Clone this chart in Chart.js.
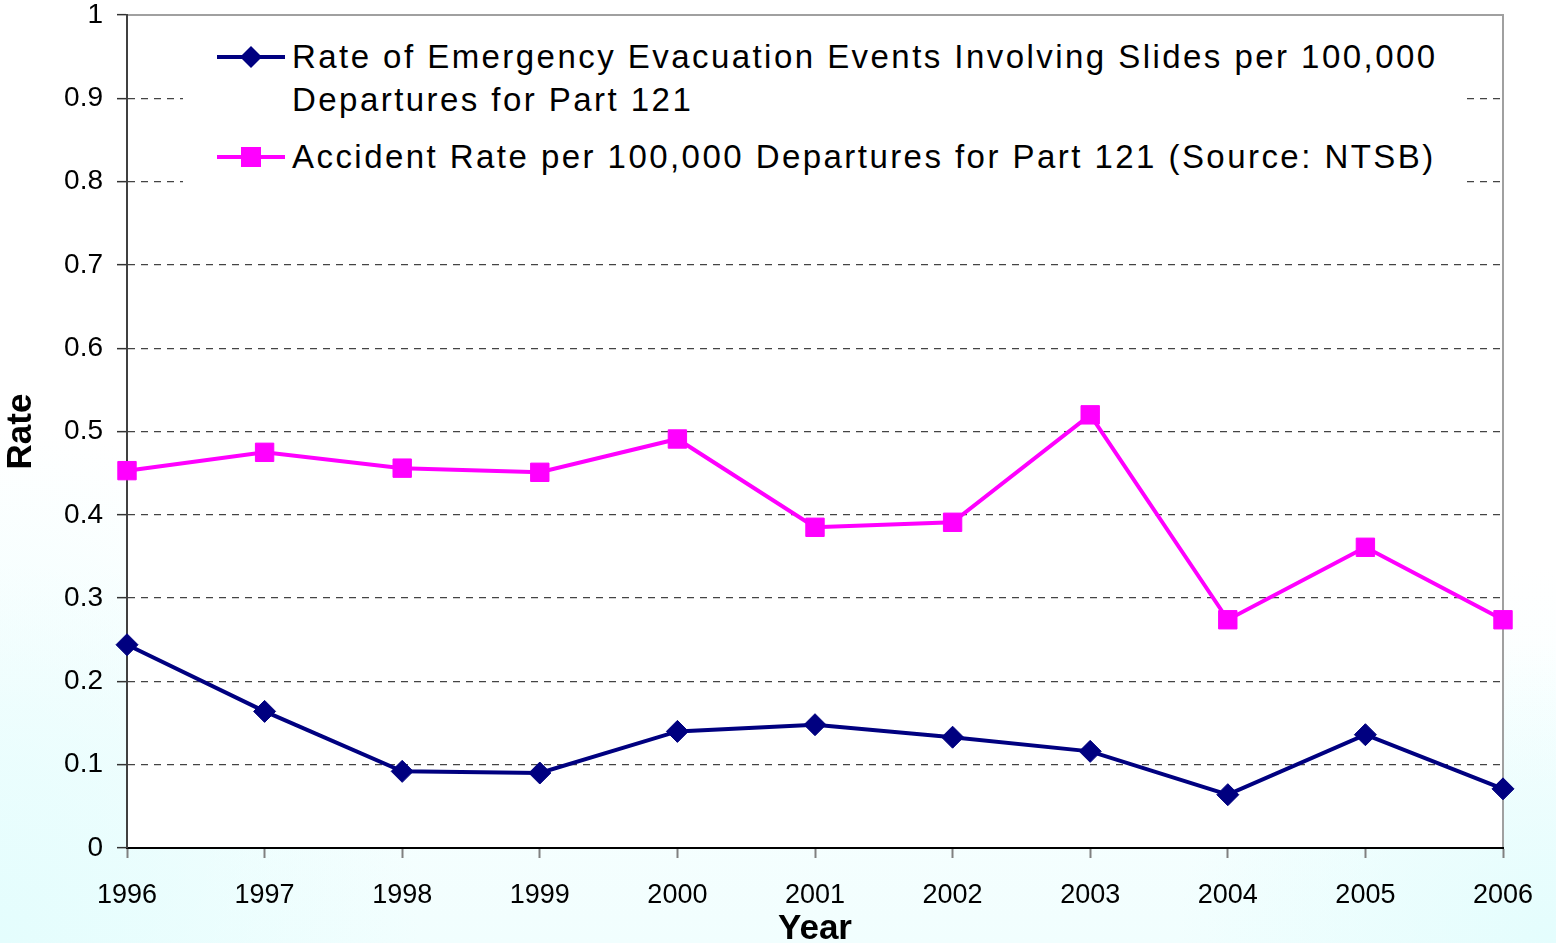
<!DOCTYPE html>
<html>
<head>
<meta charset="utf-8">
<script src="https://cdn.jsdelivr.net/npm/chart.js@4.4.1/dist/chart.umd.min.js"></script>
<style>
  html, body { margin: 0; padding: 0; }
  body {
    width: 1556px; height: 943px; overflow: hidden;
    background:
      radial-gradient(ellipse 420px 520px at 0% 100%, #e4fdfd 0%, rgba(255,255,255,0) 100%),
      radial-gradient(ellipse 380px 300px at 100% 100%, #e4fdfd 0%, rgba(255,255,255,0) 100%),
      linear-gradient(to bottom, #ffffff 60%, #f1fefe 100%);
    font-family: "Liberation Sans", Arial, sans-serif;
  }
  .wrap { position: relative; width: 1556px; height: 943px; }
  canvas { position: absolute; left: 0; top: 0; }
  .legend {
    position: absolute; left: 183px; top: 25px; width: 1280px; height: 164px;
    background: #fff;
  }
  .item { position: absolute; left: 34px; display: flex; align-items: flex-start; }
  .item svg { flex: none; margin-right: 5px; }
  .item span {
    font-size: 33px; line-height: 43px; letter-spacing: 2.45px; color: #000;
    white-space: pre;
  }
</style>
</head>
<body>
<div class="wrap">
  <canvas id="c" width="1556" height="943"></canvas>
  <div class="legend" id="legend"></div>
</div>
<script>
// chart values
const years = ["1996", "1997", "1998", "1999", "2000", "2001", "2002", "2003", "2004", "2005", "2006"];
const slideEvacRate = [0.244, 0.164, 0.092, 0.090, 0.140, 0.148, 0.133, 0.116, 0.064, 0.136, 0.071];
const accidentRate = [0.453, 0.475, 0.456, 0.451, 0.491, 0.385, 0.391, 0.520, 0.274, 0.361, 0.274];
const seriesNames = [
  "Rate of Emergency Evacuation Events Involving Slides per 100,000\nDepartures for Part 121",
  "Accident Rate per 100,000 Departures for Part 121 (Source: NTSB)",
];
const yTicks = [0, 0.1, 0.2, 0.3, 0.4, 0.5, 0.6, 0.7, 0.8, 0.9, 1];

const NAVY = "#000080";
const PINK = "#ff00ff";
const FONT = "'Liberation Sans', Arial, sans-serif";

// white plot area + light grey frame on top/right
const plotFrame = {
  id: "plotFrame",
  beforeDraw(chart) {
    const { ctx, chartArea: a } = chart;
    ctx.save();
    ctx.fillStyle = "#fff";
    ctx.fillRect(a.left, a.top, a.right - a.left, a.bottom - a.top);
    ctx.strokeStyle = "#a0a0a0";
    ctx.lineWidth = 2;
    ctx.beginPath();
    ctx.moveTo(a.left, a.top);
    ctx.lineTo(a.right, a.top);
    ctx.lineTo(a.right, a.bottom);
    ctx.stroke();
    ctx.restore();
  },
};

new Chart(document.getElementById("c"), {
  type: "line",
  data: {
    labels: years,
    datasets: [
      {
        label: seriesNames[0],
        data: slideEvacRate,
        borderColor: NAVY,
        backgroundColor: NAVY,
        borderWidth: 4,
        pointStyle: "rectRot",
        pointRadius: 11,
        pointBorderWidth: 1,
        tension: 0,
      },
      {
        label: seriesNames[1],
        data: accidentRate,
        borderColor: PINK,
        backgroundColor: PINK,
        borderWidth: 4,
        pointStyle: "rect",
        pointRadius: 13,
        pointBorderWidth: 1,
        tension: 0,
      },
    ],
  },
  plugins: [plotFrame],
  options: {
    responsive: false,
    animation: false,
    layout: { padding: { left: 0, top: 0, right: 53, bottom: 0 } },
    plugins: { legend: { display: false }, tooltip: { enabled: false } },
    scales: {
      x: {
        offset: false,
        afterFit: (s) => { s.height = 95; },
        grid: {
          drawOnChartArea: false,
          tickLength: 10,
          tickColor: "#808080",
          tickWidth: 2,
        },
        border: { color: "#000", width: 2 },
        ticks: { color: "#000", padding: 21, font: { family: FONT, size: 27 } },
        title: {
          display: true,
          text: "Year",
          color: "#000",
          padding: { top: 0, bottom: 0 },
          font: { family: FONT, size: 35, weight: "bold", lineHeight: 0.8 },
        },
      },
      y: {
        min: 0,
        max: 1,
        afterFit: (s) => {
          s.width = 127;
          // tick padding is added to the top room by default; plot top sits at y=15
          s.paddingTop = 15;
          s.paddingBottom = 0;
        },
        afterBuildTicks: (s) => { s.ticks = yTicks.map((v) => ({ value: v })); },
        grid: {
          color: (c) => (c.tick && (c.tick.value === 0 || c.tick.value === 1) ? "rgba(0,0,0,0)" : "#444"),
          lineWidth: 1.3,
          tickLength: 10,
          tickColor: "#333",
          tickWidth: 1.5,
        },
        border: { color: "#404040", width: 2, dash: [7, 6] },
        ticks: {
          color: "#000",
          padding: 14,
          font: { family: FONT, size: 28 },
          callback: (v) => String(v),
        },
        title: {
          display: true,
          text: "Rate",
          color: "#000",
          padding: { top: 0, bottom: 0 },
          font: { family: FONT, size: 35, weight: "bold" },
        },
      },
    },
  },
});

// legend as html text, markers drawn in svg
const marks = [
  '<polygon points="34,11 45,22 34,33 23,22" fill="' + NAVY + '"/>',
  '<rect x="24" y="12" width="20" height="20" fill="' + PINK + '"/>',
];
const colors = [NAVY, PINK];
const tops = [10, 110];
const legend = document.getElementById("legend");
seriesNames.forEach((name, i) => {
  const d = document.createElement("div");
  d.className = "item";
  d.style.top = tops[i] + "px";
  d.innerHTML =
    '<svg width="70" height="44"><line x1="0" y1="22" x2="68" y2="22" stroke="' +
    colors[i] + '" stroke-width="4"/>' + marks[i] + "</svg>";
  const t = document.createElement("span");
  t.textContent = name;
  d.appendChild(t);
  legend.appendChild(d);
});
</script>
</body>
</html>
